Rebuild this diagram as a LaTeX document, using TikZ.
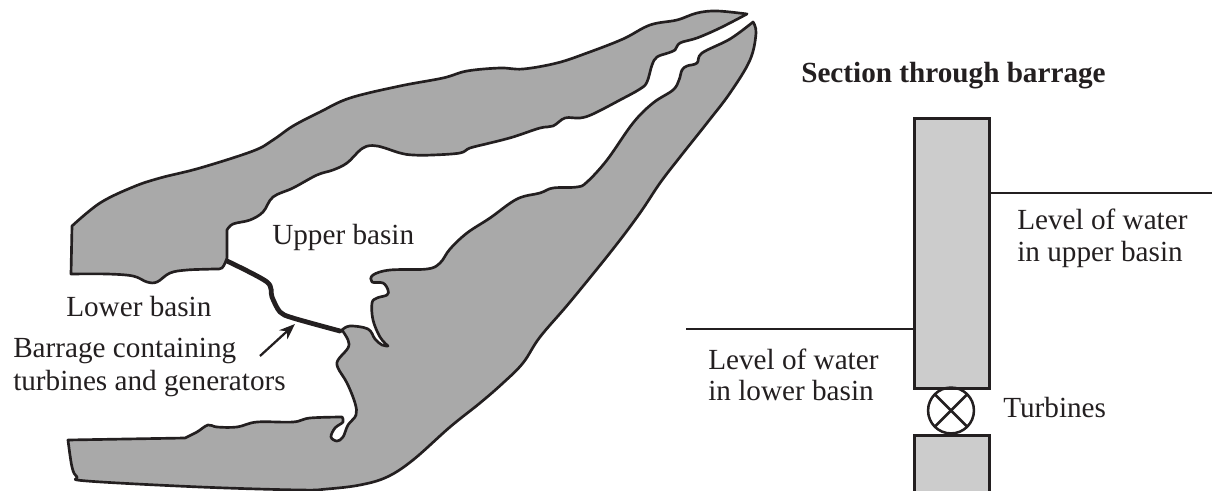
\documentclass[tikz,border=0pt]{standalone}
\usepackage{fontspec}
\setmainfont{Liberation Serif}
\usetikzlibrary{arrows.meta,positioning}
\definecolor{ink}{HTML}{231F20}
\definecolor{land}{HTML}{A9A9A9}
\definecolor{wall}{HTML}{CCCCCC}
\begin{document}
\begin{tikzpicture}[
  x=0.75pt, y=-0.75pt,
  every node/.style={font=\fontsize{21.9pt}{26pt}\selectfont, text=ink, inner sep=0pt},
  lab/.style={anchor=base west},
  shore/.style={draw=ink, line width=2pt, fill=land, line join=round},
  barrage/.style={draw=ink, line width=3.6pt, line cap=round},
  block/.style={rectangle, draw=ink, line width=2pt, fill=wall, anchor=north west},
  rotor/.style={circle, draw=ink, line width=1.9pt, minimum size=34.4pt, path picture={
    \draw[ink, line width=1.9pt] (path picture bounding box.north west) -- (path picture bounding box.south east);
    \draw[ink, line width=1.9pt] (path picture bounding box.south west) -- (path picture bounding box.north east);}},
  level/.style={draw=ink, line width=1.5pt},
  arrow/.style={-{Stealth[length=4.2mm,width=3.2mm]}, draw=ink, line width=1.7pt}
]
\useasboundingbox (0,0) rectangle (1212,491);

% upper shore
\draw[shore] (71,274) -- (72,226)
  -- plot[smooth,tension=0.6] coordinates {(72,226) (100,203) (133,187) (160,178) (200,168) (253,151) (273,140) (293,126) (320,112) (350,98) (400,86) (443,78) (467,71) (500,68) (523,69) (557,63) (587,53) (623,39) (650,25) (677,20) (697,13) (717,11) (747,14)}
  -- plot[smooth,tension=0.6] coordinates {(747,14) (720,28) (697,38) (680,43) (675,50) (668,53) (657,57) (652,65) (647,82) (640,89) (620,100) (593,114) (580,118) (565,118) (553,126) (540,128) (513,137) (490,143) (470,148) (460,153) (433,155) (413,155) (400,153) (377,146) (363,148) (347,163) (333,170) (317,175) (293,188) (273,197) (263,212) (250,220) (233,224) (227,230)}
  -- (227,258)
  -- plot[smooth,tension=0.6] coordinates {(227,258) (222,268) (213,269) (187,270) (170,273) (157,282) (147,282) (133,276) (107,274) (71,274)}
  -- cycle;

% lower shore
\draw[shore] plot[smooth,tension=0.6] coordinates {(342,330) (350,326) (368,329) (375,339) (382,345) (388,346)}
  -- plot[smooth,tension=0.6] coordinates {(388,346) (380,337) (373,320) (372,303) (377,298) (387,295) (388,290) (383,283) (372,282) (373,275) (390,270) (427,269) (440,263) (450,249) (467,233) (490,218) (517,199) (540,193) (553,188) (577,187) (587,182) (607,160) (633,123) (653,103) (673,90) (679,80) (682,70) (687,66) (697,63) (702,53) (730,39) (753,22)}
  -- plot[smooth,tension=0.6] coordinates {(753,22) (756,33) (750,60) (730,93) (707,123) (680,157) (660,183) (640,213) (613,249) (570,302) (540,337) (523,363) (503,383) (480,403) (450,427) (413,460) (387,477) (360,485) (327,489) (300,490) (200,487) (87,481) (77,477) (72,467) (68,440)}
  -- (185,438)
  -- plot[smooth,tension=0.6] coordinates {(185,438) (197,432) (208,425) (217,427) (237,427) (257,422) (293,422) (310,418) (342,417)}
  -- plot[smooth,tension=0.6] coordinates {(342,417) (343,422) (335,428) (331,437) (337,441) (343,437) (348,425) (356,415) (355,403) (347,383) (338,368) (338,360) (348,348) (348,340) (342,330)}
  -- cycle;

% barrage
\coordinate (bargA) at (227,261);
\coordinate (bargB) at (340,331);
\coordinate (bargTip) at (295,324);
\coordinate (bargTail) at (260,356);
\draw[barrage] plot[smooth,tension=0.5] coordinates {(bargA) (267,282) (272,297) (280,312) (293,318) (bargB)};
\draw[arrow] (bargTail) -- (bargTip);

% map labels
\node[lab] (upper) at (272,245) {Upper basin};
\node[lab] (lower) at (66,316) {Lower basin};
\node[lab] (barr1) at (13,357) {Barrage containing};
\node[lab] (barr2) at (13,390) {turbines and generators};

% section
\node[lab,font=\fontsize{21.9pt}{26pt}\selectfont\bfseries] (title) at (801,83) {Section through barrage};
\node[block, minimum width=56.25pt, minimum height=202.5pt] (top) at (913,117) {};
\node[block, minimum width=56.25pt, minimum height=42.75pt] (bottom) at (913,434) {};
\node[rotor] (turb) at (951,410.5) {};

\coordinate (lowL) at (686,329);
\coordinate (uppR) at (1212,193);
\draw[level] (lowL) -- (lowL -| top.west);
\draw[level] (uppR -| top.east) -- (uppR);

\node[lab] (lev1) at (1017,230) {Level of water};
\node[lab] (lev2) at (1017,262) {in upper basin};
\node[lab] (lev3) at (708,369) {Level of water};
\node[lab] (lev4) at (708,400) {in lower basin};
\node[lab] (turbtext) at (1003,417) {Turbines};
\end{tikzpicture}
\end{document}
